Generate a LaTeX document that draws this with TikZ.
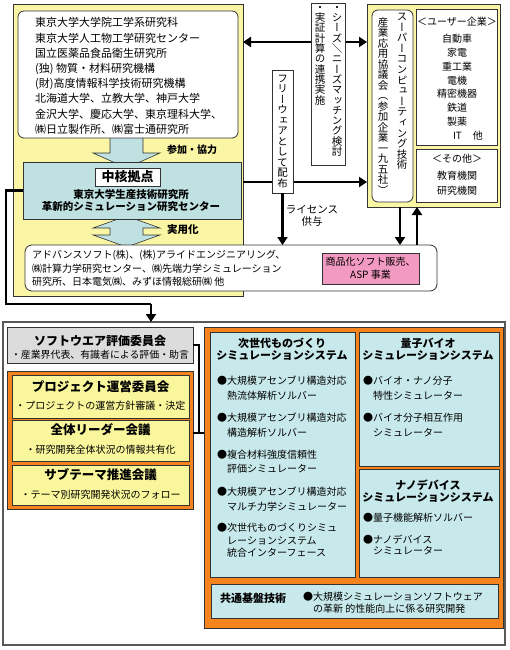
\documentclass[tikz,border=0pt]{standalone}
\usepackage{fontspec}
\setmainfont{Noto Sans CJK JP}
\newfontfamily\vjp{Noto Sans CJK JP}[RawFeature=+vert]
\usetikzlibrary{arrows.meta}
\definecolor{ylw}{HTML}{FAF6A5}
\definecolor{lblue}{HTML}{BFE1E1}
\definecolor{pnk}{HTML}{F39AC3}
\definecolor{orng}{HTML}{F5841F}
\definecolor{ylw2}{HTML}{F9F69B}
\definecolor{blu2}{HTML}{C8E9EB}
\definecolor{gry}{HTML}{DCDCDC}
\definecolor{bdr}{HTML}{333333}
\AtBeginDocument{\lineskiplimit=-20pt\relax}
\begin{document}
\begin{tikzpicture}[x=1pt,y=-1pt,
  bx/.style={draw=bdr, line width=0.8pt, anchor=north west, inner sep=0pt, outer sep=0pt},
  t/.style={inner sep=0pt},
  vt/.style={inner sep=0pt, anchor=north, align=center},
  barrow/.style={draw=bdr, line width=0.6pt, fill=lblue},
  thk/.style={line width=2.6pt, -{Triangle[length=8pt,width=10pt]}},
  thkb/.style={line width=2.6pt, {Triangle[length=8pt,width=10pt]}-{Triangle[length=8pt,width=10pt]}},
  conn/.style={line width=2pt},
  f10/.style={font=\fontsize{10}{12}\selectfont},
  vfont/.style={font=\vjp\fontsize{10.5}{#1}\selectfont}
]
\useasboundingbox (0,0) rectangle (510,650);
\fill[white] (0,0) rectangle (510,650);

% ---------- top left yellow area ----------
\node[bx, fill=ylw, minimum width=230pt, minimum height=292pt] (topy) at (13,4) {};
\draw[barrow] (110,136) -- (143,136) -- (143,153) -- (160,153) -- (126.5,168) -- (93,153) -- (110,153) -- cycle;
\draw[barrow] (126.5,216) -- (160,228) -- (143,228) -- (143,235) -- (160,235) -- (126.5,247) -- (93,235) -- (110,235) -- (110,228) -- (93,228) -- cycle;

\node[bx, fill=white, rounded corners=6pt, minimum width=220pt, minimum height=127pt] (list) at (18,11) {};
\node[t, anchor=north west, align=left, font=\fontsize{11}{15.2}\selectfont] (listtxt) at (35,17.5)
 {東京大学大学院工学系研究科\\東京大学人工物工学研究センター\\国立医薬品食品衛生研究所\\(独)\ 物質・材料研究機構\\(財)高度情報科学技術研究機構\\北海道大学、立教大学、神戸大学\\金沢大学、慶応大学、東京理科大学、\\㈱日立製作所、㈱富士通研究所};

\node[bx, fill=lblue, minimum width=218pt, minimum height=57pt] (core) at (23,162) {};
\node[bx, fill=white, minimum width=65pt, minimum height=18pt, font=\fontsize{13}{15}\selectfont\bfseries] (chukaku) at (95,168) {中核拠点};
\node[t, align=center, font=\fontsize{10.5}{12}\selectfont\bfseries] (coretxt) at (131,201) {東京大学生産技術研究所\\革新的シミュレーション研究センター};

\node[t, anchor=west, font=\fontsize{10}{12}\selectfont\bfseries] (sanka) at (167,150) {参加・協力};
\node[t, anchor=west, font=\fontsize{10.5}{12}\selectfont\bfseries] (jitsu) at (167,230) {実用化};

% ---------- top right SC box ----------
\node[bx, fill=ylw, minimum width=133pt, minimum height=203pt] (sc) at (367,4) {};
\node[bx, fill=white, rounded corners=6pt, minimum width=41pt, minimum height=192pt] (scin) at (372,10) {};
\node[vt, vfont=10.6] (vt1) at (402,13) {ス\\ー\\パ\\ー\\コ\\ン\\ピ\\ュ\\ー\\テ\\ィ\\ン\\グ\\技\\術};
\node[vt, vfont=10.5] (vt2) at (383,17) {産\\業\\応\\用\\協\\議\\会\\（\\参\\加\\企\\業\\一\\九\\五\\社\\）};

\node[bx, fill=white, minimum width=81pt, minimum height=136pt] (user) at (416,9) {};
\node[t, f10] (userh) at (457,22) {＜ユーザー企業＞};
\node[t, anchor=north, align=center, font=\fontsize{10}{13.8}\selectfont] (userl) at (457,34) {自動車\\家電\\重工業\\電機\\精密機器\\鉄道\\製薬};
\node[t, f10] (it) at (468,136) {IT\hspace{11pt}他};

\node[bx, fill=white, minimum width=81pt, minimum height=53pt] (other) at (416,149) {};
\node[t, f10] (otherh) at (457,159) {＜その他＞};
\node[t, anchor=north, align=center, font=\fontsize{10}{15}\selectfont] (otherl) at (457,171) {教育機関\\研究機関};

% ---------- company box ----------
\node[bx, fill=white, rounded corners=7pt, minimum width=412pt, minimum height=46pt] (comp) at (25,245) {};
\node[t, anchor=north west, align=left, font=\fontsize{10}{13.5}\selectfont] (comptxt) at (32,250)
 {アドバンスソフト(株)、(株)アライドエンジニアリング、\\㈱計算力学研究センター、㈱先端力学シミュレーション\\研究所、日本電気㈱、みずほ情報総研㈱ 他};
\node[bx, fill=pnk, minimum width=97pt, minimum height=31pt, align=center, font=\fontsize{10}{13}\selectfont] (pink) at (322,253) {商品化ソフト販売、\\ASP 事業};

% ---------- arrows between top parts ----------
\path (topy.north east) ++(0,38) coordinate (a1);
\draw[thkb] (a1) -- (a1 -| sc.west);
\path (topy.north east) ++(0,178) coordinate (a2);
\draw[thk] (a2) -- (a2 -| sc.west);

\node[bx, fill=white, minimum width=34pt, minimum height=162pt] (seeds) at (311,3) {};
\node[vt, vfont=10.3] (vs1) at (337,6) {・\\シ\\ー\\ズ\\＼\\ニ\\ー\\ズ\\マ\\ッ\\チ\\ン\\グ\\検\\討};
\node[vt, vfont=10.3] (vs2) at (320,6) {・\\実\\証\\計\\算\\の\\連\\携\\実\\施};

\node[bx, fill=white, minimum width=21pt, minimum height=123pt] (free) at (272,70) {};
\node[vt, vfont=10.5] (vf) at (282.5,75) {フ\\リ\\ー\\ウ\\ェ\\ア\\と\\し\\て\\配\\布};

\draw[thk] (free.south) -- (free.south |- comp.north);
\node[t, align=center, font=\fontsize{10.5}{12.5}\selectfont] (lic) at (312,216) {ライセンス\\供与};

\path (sc.south west) ++(33,0) coordinate (a3);
\draw[thk] (a3) -- (a3 |- comp.north);
\path (sc.south west) ++(50,0) coordinate (a4);
\draw[thk] (a4 |- comp.north) -- (a4);

% ---------- bottom big box ----------
\node[bx, draw=black!65, line width=1.5pt, fill=white, minimum width=502pt, minimum height=323pt] (big) at (3,322) {};

\coordinate (k1) at (6,304);
\coordinate (k2) at (151,304);
\draw[line width=2.6pt] (core.west) -| (k1) -- (k2);
\draw[thk] (k2) -- (k2 |- big.north);

% left column
\node[bx, fill=gry, minimum width=186pt, minimum height=36pt] (sw) at (7,327) {};
\node[t, font=\fontsize{12}{14}\selectfont\bfseries] (swt) at (100,341) {ソフトウエア評価委員会};
\node[t, font=\fontsize{9.9}{12}\selectfont] (sws) at (100,355) {・産業界代表、有識者による評価・助言};

\node[bx, fill=orng, minimum width=186pt, minimum height=138pt] (ol) at (7,371) {};
\node[bx, fill=ylw2, minimum width=177pt, minimum height=43pt] (p1) at (12,375) {};
\node[t, font=\fontsize{12.5}{14}\selectfont\bfseries] (p1t) at (100.5,387) {プロジェクト運営委員会};
\node[t, font=\fontsize{10}{12}\selectfont] (p1s) at (100.5,406) {・プロジェクトの運営方針審議・決定};
\node[bx, fill=ylw2, minimum width=177pt, minimum height=41pt] (p2) at (12,420) {};
\node[t, font=\fontsize{12.5}{14}\selectfont\bfseries] (p2t) at (100.5,430) {全体リーダー会議};
\node[t, font=\fontsize{10}{12}\selectfont] (p2s) at (100.5,450) {・研究開発全体状況の情報共有化};
\node[bx, fill=ylw2, minimum width=177pt, minimum height=40pt] (p3) at (12,465) {};
\node[t, font=\fontsize{12.5}{14}\selectfont\bfseries] (p3t) at (100.5,475) {サブテーマ推進会議};
\node[t, font=\fontsize{10}{12}\selectfont] (p3s) at (100.5,495) {・テーマ別研究開発状況のフォロー};

% right orange block
\node[bx, fill=orng, minimum width=299pt, minimum height=301pt] (orr) at (204,327) {};
\coordinate (j1) at (199,433);
\draw[conn] (sw.east) -| (j1);
\draw[conn] (ol.east |- j1) -- (orr.west |- j1);

\node[bx, fill=blu2, minimum width=145pt, minimum height=245pt] (ba) at (210,332) {};
\node[t, align=center, font=\fontsize{11}{12}\selectfont\bfseries] (bat) at (282,349) {次世代ものづくり\\シミュレーションシステム};
\node[t, anchor=north west, align=left, font=\fontsize{10}{14.8}\selectfont] (ba1) at (217,376) {●大規模アセンブリ構造対応\\\hspace*{10pt}熱流体解析ソルバー};
\node[t, anchor=north west, align=left, font=\fontsize{10}{14.8}\selectfont] (ba2) at (217,413) {●大規模アセンブリ構造対応\\\hspace*{10pt}構造解析ソルバー};
\node[t, anchor=north west, align=left, font=\fontsize{10}{14.3}\selectfont] (ba3) at (217,450) {●複合材料強度信頼性\\\hspace*{10pt}評価シミュレーター};
\node[t, anchor=north west, align=left, font=\fontsize{10}{14.3}\selectfont] (ba4) at (217,487) {●大規模アセンブリ構造対応\\\hspace*{10pt}マルチ力学シミュレーター};
\node[t, anchor=north west, align=left, font=\fontsize{10}{12.5}\selectfont] (ba5) at (217,523) {●次世代ものづくりシミュ\\\hspace*{10pt}レーションシステム\\\hspace*{10pt}統合インターフェース};

\node[bx, fill=blu2, minimum width=140pt, minimum height=134pt] (bb) at (359,332) {};
\node[t, align=center, font=\fontsize{11}{12}\selectfont\bfseries] (bbt) at (428,349) {量子バイオ\\シミュレーションシステム};
\node[t, anchor=north west, align=left, font=\fontsize{10}{14.8}\selectfont] (bb1) at (363,376) {●バイオ・ナノ分子\\\hspace*{10pt}特性シミュレーター};
\node[t, anchor=north west, align=left, font=\fontsize{10}{14.8}\selectfont] (bb2) at (363,413) {●バイオ分子相互作用\\\hspace*{10pt}シミュレーター};

\node[bx, fill=blu2, minimum width=140pt, minimum height=108pt] (bc) at (359,469) {};
\node[t, align=center, font=\fontsize{11}{12}\selectfont\bfseries] (bct) at (428,491) {ナノデバイス\\シミュレーションシステム};
\node[t, anchor=north west, align=left, font=\fontsize{10}{12}\selectfont] (bc1) at (363,513) {●量子機能解析ソルバー};
\node[t, anchor=north west, align=left, font=\fontsize{10}{10.5}\selectfont] (bc2) at (363,535) {●ナノデバイス\\\hspace*{10pt}シミュレーター};

\node[bx, fill=blu2, minimum width=287pt, minimum height=34pt] (bd) at (211,584) {};
\node[t, anchor=west, font=\fontsize{11}{12}\selectfont\bfseries] (bdt) at (220,598) {共通基盤技術};
\node[t, anchor=north west, align=left, font=\fontsize{10}{12}\selectfont] (bd1) at (303,592) {●大規模シミュレーションソフトウェア\\\hspace*{10pt}の革新 的性能向上に係る研究開発};
\end{tikzpicture}
\end{document}
